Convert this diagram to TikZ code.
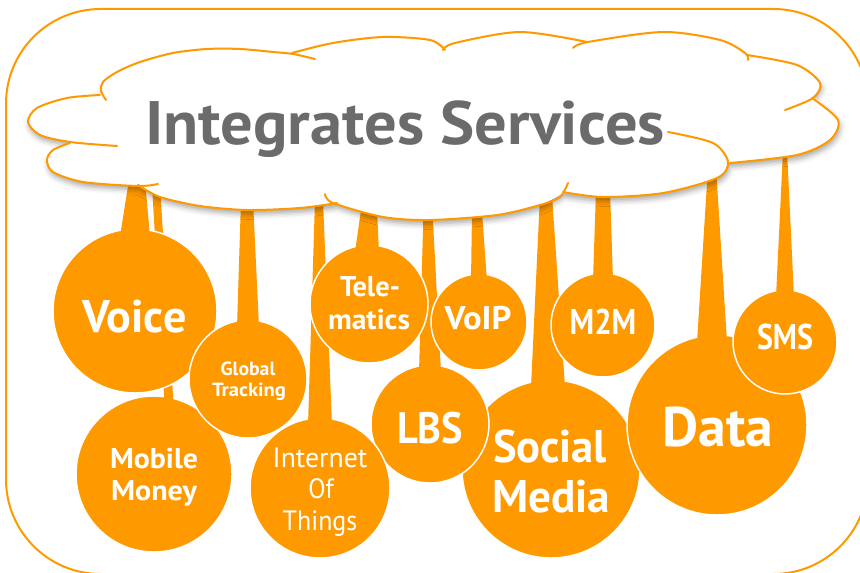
\documentclass[tikz,border=0pt]{standalone}
\usepackage{fontspec}
\setmainfont{PT Sans}
\usepackage{graphicx}
\usetikzlibrary{calc,shadows.blur}
\definecolor{org}{HTML}{FF9900}
\definecolor{ttl}{HTML}{6B6B6B}
\newlength\fitlen
\newcommand\fittext[3]{{\fontsize{#1}{#1}\selectfont\settowidth\fitlen{#3}\pgfmathsetmacro\fitratio{(#2)/\fitlen}\scalebox{\fitratio}[1]{#3}}}
\newcommand\stemto[6]{\fill[org] (#2-#4/2,#3) -- (#2+#4/2,#3) -- ($(#1.north)+(#5+#6/2,8)$) -- ($(#1.north)+(#5-#6/2,8)$) -- cycle;}
\begin{document}
\begin{tikzpicture}[x=0.75pt, y=-0.75pt,
  ball/.style={circle, fill=org, draw=white, line width=1.1pt, inner sep=0pt},
  lab/.style={text=white, font=\bfseries, inner sep=0pt, anchor=base},
  lobe/.style={draw=org, line width=1.5pt, line cap=round}]
\useasboundingbox (0,0) rectangle (860,573);
\draw[org, line width=1.5pt, rounded corners=71pt] (6,9) rectangle (868,574);

% circles with their stems (back to front)
\node[ball, minimum size=156*0.75pt] (mm) at (154,474) {};
\stemto{mm}{156}{185}{8}{15}{9}
\node[ball, minimum size=164*0.75pt] (voice) at (135,311) {};
\stemto{voice}{137}{180}{16}{0}{30}
\node[ball, minimum size=178*0.75pt] (social) at (551,469) {};
\stemto{social}{546}{195}{12}{-3}{34}
\node[ball, minimum size=118*0.75pt] (lbs) at (430,424) {};
\stemto{lbs}{428}{212}{9}{0}{22}
\node[ball, minimum size=180*0.75pt] (data) at (717,425) {};
\stemto{data}{712}{175}{9}{-5}{30}
\node[ball, minimum size=104*0.75pt] (sms) at (785,342) {};
\stemto{sms}{785}{150}{4}{0}{18}
\node[ball, minimum size=140*0.75pt] (iot) at (320,488) {};
\stemto{iot}{319}{200}{8}{0}{24}
\node[ball, minimum size=118*0.75pt] (gt) at (248,379) {};
\stemto{gt}{247}{200}{12}{0}{22}
\node[ball, minimum size=118*0.75pt] (tele) at (369,304) {};
\stemto{tele}{369}{210}{16}{-2}{24}
\node[ball, minimum size=96*0.75pt] (voip) at (479,322) {};
\stemto{voip}{477}{212}{10}{0}{16}
\node[ball, minimum size=104*0.75pt] (m2m) at (603,325) {};
\stemto{m2m}{603}{190}{14}{0}{20}

% cloud
\fill[white, blur shadow={shadow xshift=1pt, shadow yshift=-3pt, shadow blur radius=4pt, shadow opacity=35}]
  plot[smooth] coordinates {(70,142) (40,135) (28,122) (37,108) (67,98) (100,94)}
  -- plot[smooth] coordinates {(101,91) (103,82) (117,72) (140,62) (173,53) (207,49) (240,49) (273,52) (292,53)}
  -- plot[smooth] coordinates {(292,53) (333,43) (383,37) (430,40) (444,49)}
  -- plot[smooth] coordinates {(444,49) (455,43) (520,32) (580,40)}
  -- plot[smooth] coordinates {(580,40) (663,32) (720,40) (745,53) (748,56)}
  -- plot[smooth] coordinates {(748,56) (797,65) (820,83) (813,97)}
  -- plot[smooth] coordinates {(813,97) (838,120) (830,140) (797,155) (729,163)}
  -- plot[smooth] coordinates {(729,163) (717,178) (663,193) (603,197) (563,193)}
  -- plot[smooth] coordinates {(563,193) (540,205) (497,215) (430,220) (383,217) (336,204)}
  -- plot[smooth] coordinates {(336,204) (300,208) (247,210) (200,206) (160,197) (138,186)}
  -- plot[smooth] coordinates {(138,186) (83,182) (53,172) (47,160) (53,150) (70,142)}
  -- cycle;
\draw[lobe] plot[smooth] coordinates {(117,146) (70,142) (40,135) (28,122) (37,108) (67,98) (100,95)};
\draw[lobe] plot[smooth] coordinates {(106,100) (101,91) (103,82) (117,72) (140,62) (173,53) (207,49) (240,49) (273,52) (293,54) (315,59)};
\draw[lobe] plot[smooth] coordinates {(292,53) (333,43) (383,37) (430,40) (445,50)};
\draw[lobe] plot[smooth] coordinates {(443,50) (455,43) (520,32) (587,42)};
\draw[lobe] plot[smooth] coordinates {(573,48) (588,42) (663,32) (720,40) (745,53) (748,60)};
\draw[lobe] plot[smooth] coordinates {(747,55) (797,65) (820,83) (813,98) (785,110)};
\draw[lobe] plot[smooth] coordinates {(812,98) (838,120) (830,140) (797,155) (730,163)};
\draw[lobe] plot[smooth] coordinates {(668,132) (713,143) (728,162) (717,178) (663,193) (603,197) (563,192)};
\draw[lobe] plot[smooth] coordinates {(568,183) (560,197) (540,205) (497,215) (430,220) (383,217) (333,203) (325,194)};
\draw[lobe] plot[smooth] coordinates {(337,203) (300,208) (247,210) (200,206) (160,197) (138,185)};
\draw[lobe] plot[smooth] coordinates {(70,143) (53,150) (47,160) (53,172) (83,182) (138,186) (158,184)};

% texts
\node[lab, text=ttl] (title) at (405,145) {\fittext{46pt}{390pt}{Integrates Services}};
\node[lab] (tvoice) at (134.5,333) {\fittext{34.3pt}{78pt}{Voice}};
\node[lab] (tmm1) at (154,468) {\fittext{21.4pt}{66pt}{Mobile}};
\node[lab] (tmm2) at (154,500) {\fittext{21.4pt}{64.5pt}{Money}};
\node[lab] (tgt1) at (248,376) {\fittext{14.3pt}{41pt}{Global}};
\node[lab] (tgt2) at (249,397) {\fittext{14.3pt}{55.5pt}{Tracking}};
\node[lab, font=\mdseries] (tiot1) at (320,467) {\fittext{21pt}{71pt}{Internet}};
\node[lab, font=\mdseries] (tiot2) at (321,498) {\fittext{21pt}{19pt}{Of}};
\node[lab, font=\mdseries] (tiot3) at (320,530) {\fittext{21pt}{56pt}{Things}};
\node[lab] (ttele1) at (370,297) {\fittext{21.4pt}{45pt}{Tele-}};
\node[lab] (ttele2) at (369,330) {\fittext{21.4pt}{61.5pt}{matics}};
\node[lab] (tlbs) at (430,443) {\fittext{33pt}{49.5pt}{LBS}};
\node[lab] (tvoip) at (478,330) {\fittext{24.6pt}{50pt}{VoIP}};
\node[lab] (tm2m) at (603,335) {\fittext{26.8pt}{50pt}{M2M}};
\node[lab] (tsms) at (785,350) {\fittext{26.8pt}{42pt}{SMS}};
\node[lab] (tsoc1) at (550,462) {\fittext{34.3pt}{85.5pt}{Social}};
\node[lab] (tsoc2) at (551,512) {\fittext{34.3pt}{88.5pt}{Media}};
\node[lab] (tdata) at (718,446) {\fittext{41.8pt}{83pt}{Data}};
\end{tikzpicture}
\end{document}
